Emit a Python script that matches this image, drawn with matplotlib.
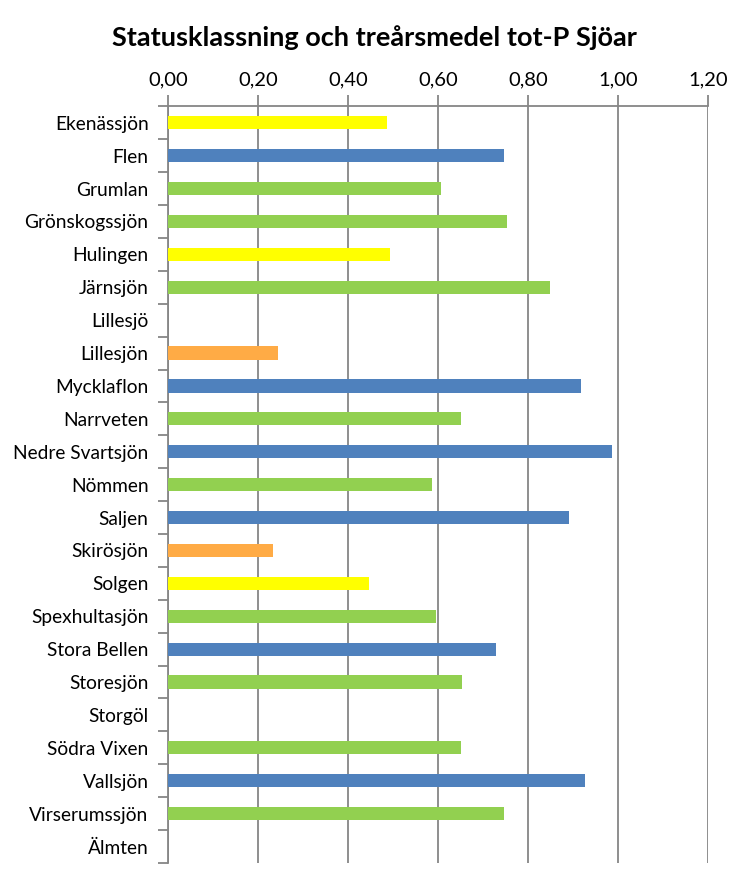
import numpy as np
import matplotlib
matplotlib.use('Agg')
import matplotlib.pyplot as plt
from matplotlib.ticker import FixedLocator, FuncFormatter

# data
lakes = ['Ekenässjön', 'Flen', 'Grumlan', 'Grönskogssjön', 'Hulingen', 'Järnsjön',
         'Lillesjö', 'Lillesjön', 'Mycklaflon', 'Narrveten', 'Nedre Svartsjön',
         'Nömmen', 'Saljen', 'Skirösjön', 'Solgen', 'Spexhultasjön', 'Stora Bellen',
         'Storesjön', 'Storgöl', 'Södra Vixen', 'Vallsjön', 'Virserumssjön', 'Älmten']
tot_p = [0.486, 0.746, 0.606, 0.753, 0.493, 0.848,
         None, 0.244, 0.917, 0.650, 0.986,
         0.586, 0.890, 0.233, 0.446, 0.595, 0.728,
         0.653, None, 0.650, 0.926, 0.746, None]
status = ['måttlig', 'hög', 'god', 'god', 'måttlig', 'god',
          None, 'otillfredsställande', 'hög', 'god', 'hög',
          'god', 'hög', 'otillfredsställande', 'måttlig', 'god', 'hög',
          'god', None, 'god', 'hög', 'god', None]
x_ticks = [0.0, 0.2, 0.4, 0.6, 0.8, 1.0, 1.2]

status_colors = {'hög': '#4F81BD', 'god': '#92D050', 'måttlig': '#FFFF00',
                 'otillfredsställande': '#FFAB45', None: 'none'}

plt.rcParams['font.family'] = ['Lato', 'DejaVu Sans']
grey = '#868686'

fig = plt.figure(figsize=(7.49, 8.86), dpi=100)
ax = fig.add_axes([0.2243, 0.026, 0.7214, 0.854])

vals = np.array([np.nan if v is None else v for v in tot_p])
y = np.arange(len(lakes))
ax.barh(y, np.nan_to_num(vals), height=0.4, color=[status_colors[s] for s in status], zorder=3)

ax.set_xlim(0, 1.2)
ax.set_ylim(len(lakes) - 0.5, -0.5)

ax.xaxis.set_major_locator(FixedLocator(x_ticks))
ax.xaxis.set_major_formatter(FuncFormatter(lambda v, p: f'{v:.2f}'.replace('.', ',')))
ax.xaxis.tick_top()
ax.tick_params(axis='x', which='major', length=8, color=grey, width=1.3,
               labelsize=14.5, pad=5, labelcolor='black')
ax.grid(axis='x', color=grey, linewidth=1.3, zorder=0)

ax.set_yticks(y)
ax.set_yticklabels(lakes)
ax.set_yticks(np.arange(len(lakes) + 1) - 0.5, minor=True)
ax.tick_params(axis='y', which='major', length=0, labelsize=13.8, pad=14)
ax.tick_params(axis='y', which='minor', length=7, color=grey, width=1.3)

for side in ['right', 'bottom']:
    ax.spines[side].set_visible(False)
for side in ['left', 'top']:
    ax.spines[side].set_color(grey)
    ax.spines[side].set_linewidth(1.3)

fig.text(0.5, 0.958, 'Statusklassning och treårsmedel tot-P Sjöar',
         ha='center', va='center', fontsize=19.5, fontweight='bold')

fig.savefig('out.png', dpi=100)
